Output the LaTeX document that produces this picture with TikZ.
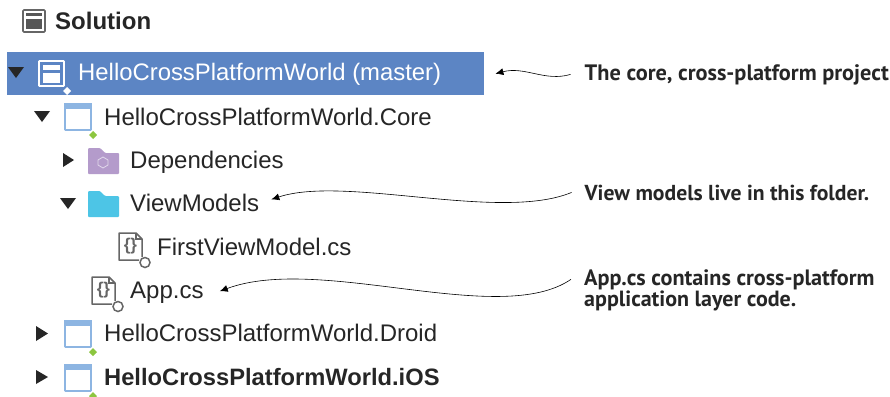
\documentclass[tikz,border=0pt]{standalone}
\usepackage{fontspec}
\setmainfont{Liberation Sans}
\newfontfamily\callfont{PT Sans}
\usetikzlibrary{arrows.meta,calc}
\definecolor{barblue}{HTML}{5C85C4}
\definecolor{iconblue}{HTML}{8DB5E2}
\definecolor{diagreen}{HTML}{8CC63F}
\definecolor{darkt}{HTML}{262626}
\definecolor{icongrey}{HTML}{666666}
\definecolor{depfolder}{HTML}{B49BCB}
\definecolor{vmfolder}{HTML}{4DC5E6}
\tikzset{
 tree/.style={anchor=base west,inner sep=0pt,text=darkt,font=\fontsize{24}{26}\selectfont},
 call/.style={anchor=base west,inner sep=0pt,text=darkt,font=\callfont\bfseries\fontsize{#1}{22}\selectfont},
 tri/.style={fill=darkt,draw=none},
 link/.style={draw=black,line width=0.6pt,-{Latex[length=8pt,width=7pt]}},
}
\newcommand\projicon[2]{% x y
 \draw[iconblue,line width=1.7pt,fill=white,rounded corners=0.7pt] (#1+1,#2+1) rectangle (#1+27,#2+27);
 \fill[iconblue] (#1,#2) rectangle (#1+28,#2+6);
 \fill[diagreen] (#1+29,#2+28) -- (#1+33,#2+32) -- (#1+29,#2+36) -- (#1+25,#2+32) -- cycle;
}
\newcommand\csicon[2]{%
 \draw[icongrey,line width=1.5pt,line join=round] (#1+24,#2+25) -- (#1+24,#2+7) -- (#1+18,#2+1) -- (#1+1,#2+1) -- (#1+1,#2+28) -- (#1+21,#2+28);
 \draw[icongrey,line width=1.2pt] (#1+18,#2+1) -- (#1+18,#2+7) -- (#1+24,#2+7);
 \node[inner sep=0pt,text=icongrey,font=\bfseries\fontsize{17}{17}\selectfont] at (#1+12.5,#2+14.5) {\{\}};
 \draw[icongrey,line width=1.5pt,fill=white] (#1+27,#2+30.5) circle (5);
}
\newcommand\foldericon[3]{% x y colour
 \fill[#3,rounded corners=1pt] (#1,#2+26) -- (#1,#2) -- (#1+12,#2) -- (#1+17,#2+5) -- (#1+31,#2+5) -- (#1+31,#2+26) -- cycle;
}
\begin{document}
\begin{tikzpicture}[x=1pt,y=-1pt]
\useasboundingbox (0,0) rectangle (890,396);
\fill[white] (0,0) rectangle (890,396);
% heading
\draw[icongrey,line width=1.6pt,rounded corners=1pt] (23,10) rectangle (45,32);
\fill[icongrey!85!black] (26,13) rectangle (42,16);
\fill[icongrey!85!black] (26,19) rectangle (42,29);
\node[tree,font=\bfseries\fontsize{24}{26}\selectfont] (sol) at (55,29.5) {Solution};
% selected bar
\node[fill=barblue,minimum width=477pt,minimum height=43pt,inner sep=0pt,anchor=north west] (bar) at (7,52) {};
\path[fill=darkt] (8,67) -- (24,67) -- (16,78) -- cycle;
\draw[white,line width=1.7pt,rounded corners=0.7pt] (39,61) rectangle (64,86);
\fill[white] (43,65) rectangle (60,70);
\fill[white] (43,73) rectangle (60,83);
\fill[white] (67,87) -- (71,91) -- (67,95) -- (63,91) -- cycle;
\node[tree,text=white,font=\fontsize{23.87}{26}\selectfont] (root) at (78,80.5) {HelloCrossPlatformWorld (master)};
% rows
\path[tri] (34,111) -- (50,111) -- (42,122) -- cycle;
\projicon{64}{103}
\node[tree] (core) at (104,125) {HelloCrossPlatformWorld.Core};
\path[tri] (63,153) -- (74,160) -- (63,167) -- cycle;
\foldericon{88}{148}{depfolder}
\draw[white!60!depfolder,line width=0.8pt] (103,157) -- (108,160) -- (108,165) -- (103,168) -- (98,165) -- (98,160) -- cycle;
\node[tree] (dep) at (130,168) {Dependencies};
\path[tri] (60,198) -- (76,198) -- (68,209) -- cycle;
\foldericon{88}{191}{vmfolder}
\node[tree] (vm) at (130,211) {ViewModels};
\csicon{118}{232}
\node[tree] (fvm) at (157,255) {FirstViewModel.cs};
\csicon{91}{276}
\node[tree] (app) at (130,298) {App.cs};
\path[tri] (36,326) -- (48,333.5) -- (36,341) -- cycle;
\projicon{64}{320}
\node[tree] (droid) at (104,341) {HelloCrossPlatformWorld.Droid};
\path[tri] (36,370) -- (48,377) -- (36,384) -- cycle;
\projicon{64}{364}
\node[tree,font=\bfseries\fontsize{23.7}{26}\selectfont] (ios) at (104,385) {HelloCrossPlatformWorld.iOS};
% callouts
\node[call=22.3] (c1) at (584.5,80) {The core, cross-platform project};
\node[call=21.65] (c2) at (584.5,200) {View models live in this folder.};
\node[call=22.2] (c3) at (584,285) {App.cs contains cross-platform};
\node[call=22] (c4) at (584,306) {application layer code.};
% connectors
\draw[link] ($(c1.west)+(-14,0)$) .. controls (545,82) and (525,66) .. ($(bar.east)+(11,0)$);
\draw[link] ($(c2.west)+(-13,0)$) .. controls (500,222) and (345,175) .. ($(vm.east)+(12,-3)$);
\draw[link] ($(c3.west)+(-13,0)$) .. controls (500,328) and (320,254) .. ($(app.east)+(16,-1)$);
\end{tikzpicture}
\end{document}
